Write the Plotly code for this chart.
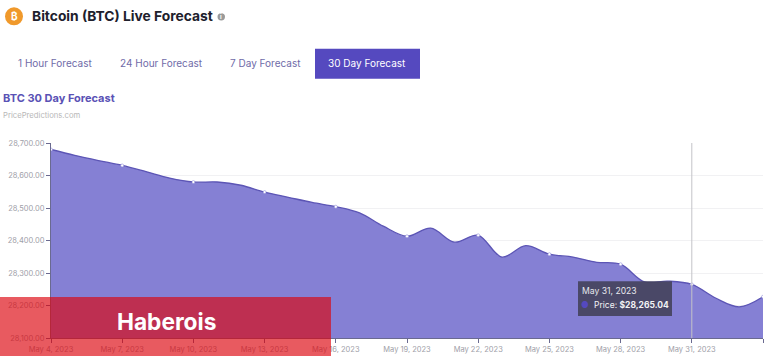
import plotly.graph_objects as go
import pandas as pd

FONT = "Inter"
dates = pd.date_range("2023-05-04", "2023-06-03", freq="D")
prices = [28680, 28662, 28646, 28631, 28612, 28592, 28580, 28580, 28570, 28549,
          28533, 28517, 28504, 28485, 28444, 28413, 28438, 28395, 28416, 28349,
          28384, 28358, 28349, 28333, 28327, 28273, 28275, 28265.04, 28223, 28196, 28227]
tabs = ["1 Hour Forecast", "24 Hour Forecast", "7 Day Forecast", "30 Day Forecast"]
tab_x = [54.5, 161, 265.5, 367]
hover_i = 27

W, H = 768, 356
L, R, T, B = 51, 5, 142.5, 18
def px(x): return (x - L) / (W - L - R)
def py(y): return (H - B - y) / (H - T - B)

fig = go.Figure()
fig.add_trace(go.Scatter(x=dates, y=prices, mode="lines", line=dict(color="#5c55b5", width=1.3, shape="spline", smoothing=1),
                         fill="tozeroy", fillcolor="#8580d4", hoverinfo="skip", showlegend=False))
fig.add_trace(go.Scatter(x=dates[::3], y=prices[::3], mode="markers",
                         marker=dict(color="#ffffff", size=3, line=dict(color="#8580d4", width=0.5)),
                         hoverinfo="skip", showlegend=False))

def note(x, y, text, size, color, bold=False, anchor="left"):
    return dict(xref="paper", yref="paper", x=px(x), y=py(y), text=f"<b>{text}</b>" if bold else text,
                showarrow=False, xanchor=anchor, yanchor="middle", borderpad=0,
                font=dict(family=FONT, size=size, color=color))

anns = [
    note(14, 15.5, "₿", 10, "#ffffff", True, "center"),
    note(31, 15.5, "Bitcoin (BTC) Live Forecast", 13.8, "#20202c", True),
    note(221.2, 16, "i", 6, "#ffffff", True, "center"),
    note(2, 97.5, "BTC 30 Day Forecast", 11, "#5a52b5", True),
    note(2, 114.5, "PricePredictions.com", 7.7, "#b8b8b8"),
    note(166.5, 321.5, "Haberois", 22.7, "#ffffff", True, "center"),
    note(581, 291, "May 31, 2023", 8.6, "#e8e8ee"),
    note(580, 305, "<span style='color:#5549bf'>●</span>", 8.6, "#5549bf"),
    note(593, 305, f"Price: <b>${prices[hover_i]:,.2f}</b>", 8.5, "#f2f2f5"),
]
for i, (t, x) in enumerate(zip(tabs, tab_x)):
    anns.append(note(x, 62, t, 10, "#ffffff" if i == 3 else "#6f6ba8", False, "center"))

shapes = [
    dict(type="circle", xref="paper", yref="paper", x0=px(5), x1=px(23), y0=py(24.5), y1=py(6.5),
         fillcolor="#f0992b", line=dict(width=0)),
    dict(type="circle", xref="paper", yref="paper", x0=px(217.5), x1=px(225), y0=py(19.7), y1=py(12.3),
         fillcolor="#9a9a9a", line=dict(width=0)),
    dict(type="rect", xref="paper", yref="paper", x0=px(315), x1=px(420), y0=py(78), y1=py(48),
         fillcolor="#5549bf", line=dict(width=0)),
    dict(type="line", xref="x", yref="paper", x0=dates[hover_i], x1=dates[hover_i], y0=0, y1=1,
         line=dict(color="#c4c4c8", width=1)),
    dict(type="rect", xref="paper", yref="paper", x0=px(578), x1=px(672), y0=py(316), y1=py(281),
         fillcolor="rgba(70,68,95,0.93)", line=dict(width=0), layer="above"),
    dict(type="rect", xref="paper", yref="paper", x0=px(0), x1=px(331), y0=py(356), y1=py(297),
         fillcolor="rgba(220,5,14,0.66)", line=dict(width=0), layer="above"),
]
fig.update_layout(
    annotations=anns, shapes=shapes,
    width=W, height=H, paper_bgcolor="#ffffff", plot_bgcolor="#ffffff",
    margin=dict(l=L, r=R, t=T, b=B), showlegend=False,
    font=dict(family=FONT, size=7.5, color="#a0a0a8"),
    xaxis=dict(range=[dates[0], dates[-1]], tick0=dates[0], dtick=3 * 86400000, tickformat="%b %-d, %Y",
               showgrid=False, showline=True, linecolor="#6a6a90", linewidth=1, ticks="outside", ticklen=4,
               tickcolor="#6a6a90", tickfont=dict(size=7.5, color="#a0a0a8"), automargin=False),
    yaxis=dict(range=[28100, 28700], dtick=100, tickformat=",.2f", showgrid=True, gridcolor="#f1f1f3",
               showline=True, linecolor="#6a6a90", linewidth=1, ticks="outside", ticklen=4, tickcolor="#6a6a90",
               tickfont=dict(size=7.5, color="#a0a0a8"), automargin=False),
)
fig.write_html("out.html", config=dict(displayModeBar=False),
               post_script="document.body.style.margin='0';document.body.style.overflow='hidden';")
